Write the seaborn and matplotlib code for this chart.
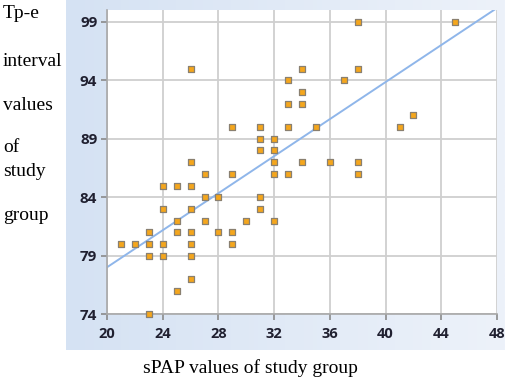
import numpy as np
import pandas as pd
import seaborn as sns
import matplotlib.pyplot as plt
from matplotlib.colors import LinearSegmentedColormap

# sPAP (x) vs Tp-e interval (y)
spap = [26, 33, 34, 34, 34, 33, 29, 31, 33, 31, 32, 31, 32, 26, 32, 34,
        38, 45, 38, 37, 35, 42, 41, 36, 38, 38,
        27, 29, 32, 33, 24, 25, 26, 27, 28, 31, 24, 26, 31, 25, 27, 30, 32,
        23, 25, 26, 28, 29, 21, 22, 23, 24, 26, 29, 23, 24, 26, 26, 25, 23]
tpe = [95, 94, 95, 93, 92, 92, 90, 90, 90, 89, 89, 88, 88, 87, 87, 87,
       99, 99, 95, 94, 90, 91, 90, 87, 87, 86,
       86, 86, 86, 86, 85, 85, 85, 84, 84, 84, 83, 83, 83, 82, 82, 82, 82,
       81, 81, 81, 81, 81, 80, 80, 80, 80, 80, 80, 79, 79, 79, 77, 76, 74]

trend_x = [20, 48]
trend_y = [78.0, 100.2]

x_ticks = [20, 24, 28, 32, 36, 40, 44, 48]
y_ticks = [74, 79, 84, 89, 94, 99]
ylabel_words = ["Tp-e", "interval", "values", "of", "study", "group"]
ylabel_ypos = [14, 61, 105, 148, 172, 215]   # pixel rows of each word

df = pd.DataFrame({"sPAP": spap, "Tpe": tpe})

W, H = 505, 379
fig = plt.figure(figsize=(W / 100, H / 100), dpi=100)
fig.patch.set_facecolor("white")

# light blue chart panel behind the plot
bg = fig.add_axes([66 / W, 1 - 350 / H, 1 - 66 / W, 350 / H])
grad = np.linspace(0, 1, 256).reshape(1, -1)
cm = LinearSegmentedColormap.from_list("bg", ["#d5e2f3", "#edf2fa"])
bg.imshow(grad, aspect="auto", cmap=cm, extent=[0, 1, 0, 1])
bg.set_axis_off()

ax = fig.add_axes([107 / W, 1 - 314 / H, 390 / W, 304.5 / H])
ax.set_facecolor("white")

sns.lineplot(x=trend_x, y=trend_y, ax=ax, color="#8fb6ea", linewidth=1.4, zorder=2)
sns.scatterplot(data=df, x="sPAP", y="Tpe", ax=ax, marker="s", s=20,
                color="#f5a61c", edgecolor="#8a8070", linewidth=0.9, zorder=3)
ax.collections[-1].set_clip_on(False)

ax.set_xlim(20, 48)
ax.set_ylim(74, 100.07)
ax.set_xticks(x_ticks)
ax.set_yticks(y_ticks)
ax.grid(True, color="#cfcfcf", linewidth=1.3)
ax.set_axisbelow(True)
for s in ["top", "right"]:
    ax.spines[s].set_visible(False)
for s in ["left", "bottom"]:
    ax.spines[s].set_color("#a8a8a8")
    ax.spines[s].set_linewidth(1.2)
ax.tick_params(axis="both", colors="#8a8a8a", length=4, width=1.2)
ax.tick_params(axis="x", pad=5, labelcolor="#202030", labelsize=10.5)
ax.tick_params(axis="y", pad=3, labelcolor="#202030", labelsize=11)
for lab in ax.get_xticklabels() + ax.get_yticklabels():
    lab.set_fontfamily("Open Sans")
    lab.set_fontweight("bold")
ax.set_xlabel("")
ax.set_ylabel("")

for word, yp in zip(ylabel_words, ylabel_ypos):
    fig.text(3 / W, 1 - yp / H, word, family="Liberation Serif", fontsize=14,
             ha="left", va="center", color="black")
fig.text(250 / W, 1 - 368 / H, "sPAP values of study group",
         family="Liberation Serif", fontsize=14, ha="center", va="center")

fig.savefig("out.png", dpi=100)
